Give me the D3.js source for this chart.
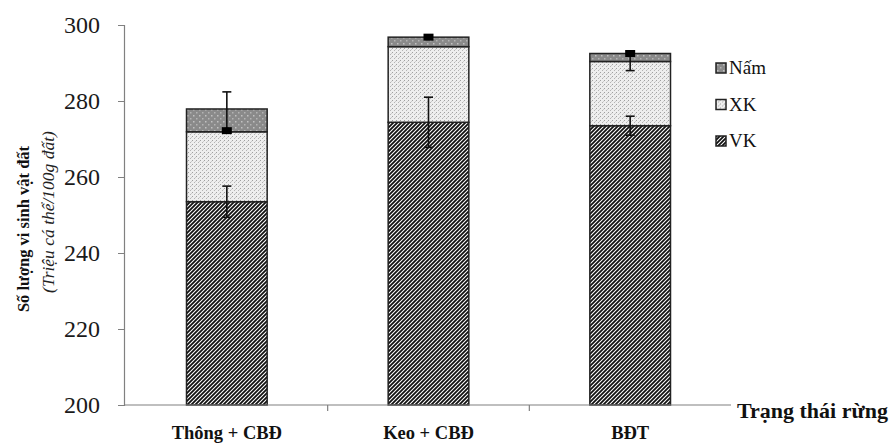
<!DOCTYPE html>
<html>
<head>
<meta charset="utf-8">
<script src="https://cdn.jsdelivr.net/npm/d3@7"></script>
<style>
  body { margin: 0; background: #fff; }
  svg { display: block; }
  svg text { font-family: "Liberation Serif", "DejaVu Serif", "Times New Roman", Times, serif !important; }
</style>
</head>
<body>
<div id="chart"></div>
<script>
// ---- data ----
const categories = ["Thông + CBĐ", "Keo + CBĐ", "BĐT"];
const seriesNames = ["VK", "XK", "Nấm"];           // bottom -> top
const vkValues  = [253.5, 274.4, 273.5];
const xkValues  = [18.4, 19.9, 16.9];
const namValues = [6.0, 2.5, 2.1];
const vkErr = [4.1, 6.6, 2.5];                      // error bars at top of VK
const markerValues   = [272.2, 296.8, 292.5];       // black square markers
const markerErrPlus  = [10.2, 0, 0];
const markerErrMinus = [0, 0, 4.5];
const yTicks = [200, 220, 240, 260, 280, 300];
const legendLabels = ["Nấm", "XK", "VK"];
const yTitle1 = "Số lượng vi sinh vật đất";
const yTitle2 = "(Triệu cá thể/100g đất)";
const xTitle = "Trạng thái rừng";

const W = 889, H = 445;
const svg = d3.select("#chart").append("svg").attr("width", W).attr("height", H);
const SERIF = "'Liberation Serif', 'DejaVu Serif', serif";

// ---- patterns ----
const defs = svg.append("defs");
const pVK = defs.append("pattern").attr("id", "pVK").attr("patternUnits", "userSpaceOnUse")
  .attr("width", 4).attr("height", 4);
pVK.append("rect").attr("width", 4).attr("height", 4).attr("fill", "#fff");
pVK.append("path").attr("d", "M-1,1 L1,-1 M0,4 L4,0 M3,5 L5,3")
  .attr("stroke", "#111").attr("stroke-width", 1.8);

const pXK = defs.append("pattern").attr("id", "pXK").attr("patternUnits", "userSpaceOnUse")
  .attr("width", 4).attr("height", 4);
pXK.append("rect").attr("width", 4).attr("height", 4).attr("fill", "#eeeeee");
pXK.append("rect").attr("x", 0).attr("y", 0).attr("width", 1).attr("height", 1).attr("fill", "#a0a0a0");
pXK.append("rect").attr("x", 2).attr("y", 2).attr("width", 1).attr("height", 1).attr("fill", "#b4b4b4");
pXK.append("rect").attr("x", 3).attr("y", 1).attr("width", 1).attr("height", 1).attr("fill", "#cccccc");

const pNam = defs.append("pattern").attr("id", "pNam").attr("patternUnits", "userSpaceOnUse")
  .attr("width", 6).attr("height", 6);
pNam.append("rect").attr("width", 6).attr("height", 6).attr("fill", "#8a8a8a");
pNam.append("rect").attr("x", 1).attr("y", 1).attr("width", 1.5).attr("height", 1.5).attr("fill", "#c2c2c2");
pNam.append("rect").attr("x", 4).attr("y", 4).attr("width", 1.5).attr("height", 1.5).attr("fill", "#b4b4b4");

const fills = { "VK": "url(#pVK)", "XK": "url(#pXK)", "Nấm": "url(#pNam)" };

// ---- scales ----
const x = d3.scaleBand().domain(categories).range([126, 731]).paddingInner(0.6).paddingOuter(0.3);
const xBounds = d3.scaleBand().domain(categories).range([126, 731]).padding(0);
const y = d3.scaleLinear().domain([200, 300]).range([405, 25]);

// ---- stacked data ----
const rows = categories.map((c, i) => ({ cat: c, "VK": vkValues[i], "XK": xkValues[i], "Nấm": namValues[i] }));
const stacked = d3.stack().keys(seriesNames)(rows);

stacked.forEach(layer => {
  svg.append("g").selectAll("rect").data(layer).join("rect")
    .attr("x", d => x(d.data.cat))
    .attr("width", x.bandwidth())
    .attr("y", d => y(d[1]))
    .attr("height", d => y(d[0] > 200 ? d[0] : 200) - y(d[1]))
    .attr("fill", fills[layer.key])
    .attr("stroke", "#222").attr("stroke-width", 1.5);
});

// ---- axes ----
const yAxis = d3.axisLeft(y).tickValues(yTicks).tickSize(6).tickPadding(18);
const gy = svg.append("g").attr("transform", "translate(124,0)").call(yAxis)
  .attr("font-family", SERIF).attr("font-size", 24);
gy.select(".domain").attr("stroke", "#808080").attr("stroke-width", 1.2);
gy.selectAll(".tick line").attr("stroke", "#808080");
gy.selectAll(".tick text").style("font-family", SERIF)
  .style("font-size", "24px").attr("fill", "#1a1a1a");

svg.append("line").attr("x1", 124).attr("x2", 731).attr("y1", y(200)).attr("y2", y(200))
  .attr("stroke", "#808080").attr("stroke-width", 1.2);
svg.append("g").selectAll("line").data(categories.slice(1)).join("line")
  .attr("x1", d => xBounds(d)).attr("x2", d => xBounds(d))
  .attr("y1", y(200)).attr("y2", y(200) + 6)
  .attr("stroke", "#808080").attr("stroke-width", 1.2);
svg.append("g").selectAll("text").data(categories).join("text")
  .attr("x", d => x(d) + x.bandwidth() / 2)
  .attr("y", 439)
  .attr("text-anchor", "middle")
  .style("font-family", SERIF)
  .attr("font-weight", "bold").attr("font-size", 18.5).attr("fill", "#111")
  .text(d => d);

svg.append("text").attr("x", 737).attr("y", 418)
  .style("font-family", SERIF)
  .attr("font-weight", "bold").attr("font-size", 22).attr("fill", "#111")
  .text(xTitle);

svg.append("text").attr("transform", "translate(29,229) rotate(-90)")
  .attr("text-anchor", "middle")
  .style("font-family", SERIF)
  .attr("font-weight", "bold").attr("font-size", 16.5).attr("fill", "#111")
  .text(yTitle1);
svg.append("text").attr("transform", "translate(54,212) rotate(-90)")
  .attr("text-anchor", "middle")
  .style("font-family", SERIF)
  .attr("font-style", "italic").attr("font-size", 17.5).attr("fill", "#222")
  .text(yTitle2);

// ---- error bars ----
const cx = c => x(c) + x.bandwidth() / 2;
const eb = svg.append("g").attr("stroke", "#111").attr("stroke-width", 1.6);
function cap(c, v) {
  eb.append("line").attr("x1", cx(c) - 4.5).attr("x2", cx(c) + 4.5).attr("y1", y(v)).attr("y2", y(v));
}
categories.forEach((c, i) => {
  const lo = vkValues[i] - vkErr[i], hi = vkValues[i] + vkErr[i];
  eb.append("line").attr("x1", cx(c)).attr("x2", cx(c)).attr("y1", y(lo)).attr("y2", y(hi));
  cap(c, lo); cap(c, hi);
  if (markerErrPlus[i] > 0 || markerErrMinus[i] > 0) {
    const mlo = markerValues[i] - markerErrMinus[i], mhi = markerValues[i] + markerErrPlus[i];
    eb.append("line").attr("x1", cx(c)).attr("x2", cx(c)).attr("y1", y(mlo)).attr("y2", y(mhi));
    if (markerErrPlus[i] > 0) cap(c, mhi);
    if (markerErrMinus[i] > 0) cap(c, mlo);
  }
});
svg.append("g").selectAll("rect").data(categories).join("rect")
  .attr("x", d => cx(d) - 5).attr("width", 10)
  .attr("y", (d, i) => y(markerValues[i]) - 3.5).attr("height", 7)
  .attr("fill", "#000");

// ---- legend ----
const legendKeys = ["Nấm", "XK", "VK"];
const lg = svg.append("g").selectAll("g").data(legendKeys).join("g")
  .attr("transform", (d, i) => `translate(716,${63 + i * 36.5})`);
lg.append("rect").attr("width", 10).attr("height", 10)
  .attr("fill", d => fills[d]).attr("stroke", "#222").attr("stroke-width", 1.5);
lg.append("text").attr("x", 13).attr("y", 11)
  .style("font-family", SERIF)
  .attr("font-size", 19).attr("fill", "#111")
  .text((d, i) => legendLabels[i]);
</script>
</body>
</html>
